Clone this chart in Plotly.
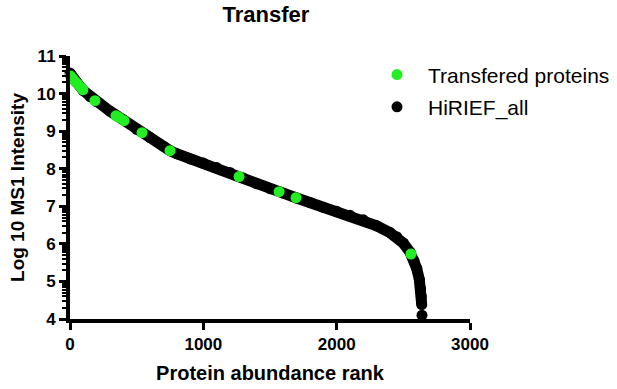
import math
import plotly.graph_objects as go

# HiRIEF_all: protein abundance rank vs log10 MS1 intensity
all_rank = [0, 20, 50, 100, 150, 200, 300, 400, 500, 600, 700, 750, 800, 900,
            1000, 1100, 1200, 1300, 1400, 1500, 1600, 1700, 1800, 1900, 2000,
            2100, 2200, 2300, 2400, 2450, 2500, 2550, 2580, 2600, 2620, 2630,
            2635, 2638]
all_int = [10.55, 10.42, 10.3, 10.08, 9.92, 9.78, 9.53, 9.3, 9.05, 8.83, 8.6,
           8.48, 8.4, 8.26, 8.15, 8.03, 7.9, 7.75, 7.6, 7.47, 7.35, 7.22, 7.1,
           6.97, 6.87, 6.76, 6.64, 6.48, 6.3, 6.19, 6.02, 5.78, 5.55, 5.35,
           5.05, 4.8, 4.6, 4.38]
tail_rank = [2640]
tail_int = [4.1]

# Transfered proteins
tr_rank = [3, 20, 40, 60, 80, 97, 187, 345, 370, 405, 540, 750, 1268, 1568,
           1695, 2557]
tr_int = [10.47, 10.4, 10.32, 10.25, 10.17, 10.1, 9.81, 9.41, 9.36, 9.28,
          8.96, 8.48, 7.79, 7.39, 7.23, 5.73]

x_ticks = [0, 1000, 2000, 3000]
y_ticks = [4, 5, 6, 7, 8, 9, 10, 11]

BLACK = "#000000"
GREEN = "#22ee22"
FONT = "Arial, Liberation Sans, sans-serif"

minor_vals = [n + math.log10(k) for n in range(4, 11) for k in range(2, 10)]

fig = go.Figure()
fig.add_trace(go.Scatter(x=all_rank, y=all_int, mode="lines",
                         line=dict(color=BLACK, width=11),
                         showlegend=False, cliponaxis=False, hoverinfo="skip"))
fig.add_trace(go.Scatter(x=all_rank + tail_rank, y=all_int + tail_int,
                         mode="markers", name="HiRIEF_all",
                         marker=dict(color=BLACK, size=11), legendrank=2,
                         legendgroup="b", cliponaxis=False))
fig.add_trace(go.Scatter(x=tr_rank, y=tr_int, mode="markers",
                         name="Transfered proteins",
                         marker=dict(color=GREEN, size=11), legendrank=1,
                         legendgroup="a", cliponaxis=False))

fig.update_layout(
    width=617, height=389,
    margin=dict(l=70, r=147, t=56, b=70, autoexpand=False),
    paper_bgcolor="white", plot_bgcolor="white",
    font=dict(family=FONT, color="black"),
    title=dict(text="<b>Transfer</b>", x=0.431, xanchor="center",
               y=0.962, yanchor="middle", pad=dict(t=0, b=0),
               font=dict(size=22)),
    legend=dict(x=0.74, xanchor="left", y=1.006, yanchor="top",
                traceorder="grouped", font=dict(size=21),
                itemwidth=52, tracegroupgap=2, bgcolor="rgba(0,0,0,0)"),
    xaxis=dict(range=[0, 3000], tickmode="array", tickvals=x_ticks,
               ticktext=["<b>%d</b>" % v for v in x_ticks], showgrid=False,
               zeroline=False, showline=True, linewidth=4, linecolor=BLACK,
               ticks="outside", ticklen=7, tickwidth=3, tickcolor=BLACK,
               automargin=False,
               tickfont=dict(size=17, family=FONT),
               title=dict(text="<b>Protein abundance rank</b>",
                          font=dict(size=20), standoff=14)),
    yaxis=dict(range=[4, 11], tickmode="array", tickvals=y_ticks,
               ticktext=["<b>%d</b>" % v for v in y_ticks], showgrid=False,
               zeroline=False, showline=True, linewidth=4, linecolor=BLACK,
               ticks="outside", ticklen=7, tickwidth=3, tickcolor=BLACK,
               automargin=False,
               tickfont=dict(size=17, family=FONT),
               minor=dict(tickvals=minor_vals, ticks="outside", ticklen=4,
                          tickwidth=2, tickcolor=BLACK, showgrid=False),
               title=dict(text="<b>Log 10 MS1 Intensity</b>",
                          font=dict(size=19), standoff=8)),
)

fig.write_html("out.html", config={"displayModeBar": False},
               post_script="document.body.style.margin='0px';")
